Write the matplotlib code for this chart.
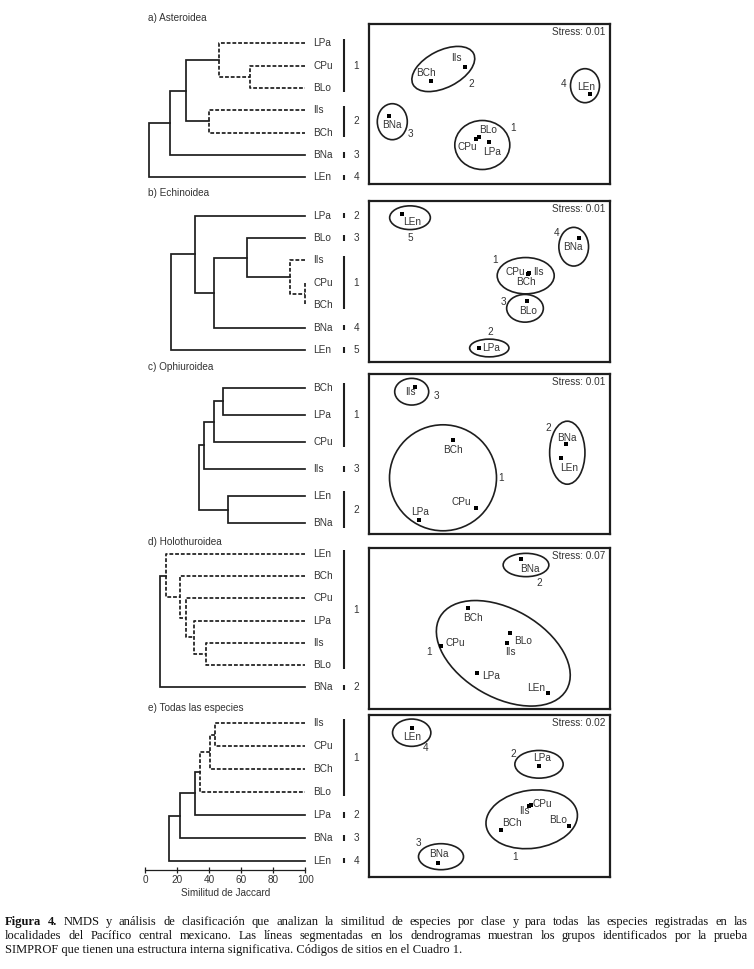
import matplotlib
matplotlib.use('Agg')
import matplotlib.pyplot as plt
from matplotlib.patches import Ellipse

plt.rcParams['font.family'] = ['Liberation Sans', 'DejaVu Sans']

# ── Data ──────────────────────────────────────────────────────────────────────
# Dendrograms: leaves top->bottom, merges (child, child, Jaccard similarity, SIMPROF dashed)
# ints in merges refer to earlier merge rows (like a linkage table)
A_LEAVES = ['LPa', 'CPu', 'BLo', 'IIs', 'BCh', 'BNa', 'LEn']
A_MERGES = [('CPu', 'BLo', 65.6, True), ('LPa', 0, 46.0, True), ('IIs', 'BCh', 39.6, True),
            (1, 2, 25.6, False), (3, 'BNa', 15.2, False), (4, 'LEn', 2.3, False)]
A_GROUPS = [('LPa', 'BLo', '1'), ('IIs', 'BCh', '2'), ('BNa', 'BNa', '3'), ('LEn', 'LEn', '4')]

B_LEAVES = ['LPa', 'BLo', 'IIs', 'CPu', 'BCh', 'BNa', 'LEn']
B_MERGES = [('CPu', 'BCh', 100.0, True), ('IIs', 0, 90.6, True), ('BLo', 1, 63.5, False),
            (2, 'BNa', 42.7, False), ('LPa', 3, 31.3, False), (4, 'LEn', 16.0, False)]
B_GROUPS = [('LPa', 'LPa', '2'), ('BLo', 'BLo', '3'), ('IIs', 'BCh', '1'),
            ('BNa', 'BNa', '4'), ('LEn', 'LEn', '5')]

C_LEAVES = ['BCh', 'LPa', 'CPu', 'IIs', 'LEn', 'BNa']
C_MERGES = [('BCh', 'LPa', 48.5, False), (0, 'CPu', 42.7, False), (1, 'IIs', 36.5, False),
            ('LEn', 'BNa', 51.7, False), (2, 3, 33.5, False)]
C_GROUPS = [('BCh', 'CPu', '1'), ('IIs', 'IIs', '3'), ('LEn', 'BNa', '2')]

D_LEAVES = ['LEn', 'BCh', 'CPu', 'LPa', 'IIs', 'BLo', 'BNa']
D_MERGES = [('IIs', 'BLo', 38.1, True), ('LPa', 0, 30.2, True), ('CPu', 1, 25.6, True),
            ('BCh', 2, 21.9, True), ('LEn', 3, 12.9, True), (4, 'BNa', 9.4, False)]
D_GROUPS = [('LEn', 'BLo', '1'), ('BNa', 'BNa', '2')]

E_LEAVES = ['IIs', 'CPu', 'BCh', 'BLo', 'LPa', 'BNa', 'LEn']
E_MERGES = [('IIs', 'CPu', 43.3, True), (0, 'BCh', 40.2, True), (1, 'BLo', 34.4, True),
            (2, 'LPa', 31.3, False), (3, 'BNa', 21.5, False), (4, 'LEn', 14.6, False)]
E_GROUPS = [('IIs', 'BLo', '1'), ('LPa', 'LPa', '2'), ('BNa', 'BNa', '3'), ('LEn', 'LEn', '4')]

# NMDS ordinations (box units, y up); ellipses: (cx, cy, width, height, angle, group)
A_SITES = ['IIs', 'BCh', 'LEn', 'BNa', 'CPu', 'BLo', 'LPa']
A_X = [95.7, 61.7, 220.7, 20.0, 106.7, 110.0, 120.0]
A_Y = [117.6, 103.3, 90.0, 68.6, 45.3, 47.3, 42.6]
A_ELLIPSES = [(74, 115.3, 68, 37, 27, '2'), (215.7, 98.6, 29, 34, 0, '4'),
              (23, 62.6, 30, 36, 0, '3'), (113, 39.3, 55, 49, 0, '1')]
A_STRESS = 0.01

B_SITES = ['LEn', 'BNa', 'CPu', 'IIs', 'BCh', 'BLo', 'LPa']
B_X = [33.0, 209.4, 158.6, 159.4, 159.0, 158.0, 110.0]
B_Y = [147.4, 123.4, 88.0, 88.3, 87.7, 60.7, 13.4]
B_ELLIPSES = [(40.7, 144, 40.7, 23.7, 0, '5'), (204.4, 115, 29.7, 38.7, 0, '4'),
              (156.4, 86, 57, 36.3, 0, '1'), (155.7, 53.4, 36.7, 27.7, 0, '3'),
              (120, 13.7, 39.3, 17.7, 0, '2')]
B_STRESS = 0.01

C_SITES = ['IIs', 'BCh', 'BNa', 'LEn', 'CPu', 'LPa']
C_X = [45.7, 84.0, 197.0, 192.0, 106.7, 50.0]
C_Y = [147.3, 94.3, 90.0, 76.3, 26.6, 14.3]
C_ELLIPSES = [(42.4, 142.6, 34, 26.7, 0, '3'), (73.7, 56.5, 107, 106, 0, '1'),
              (198, 81.6, 35.3, 63, 0, '2')]
C_STRESS = 0.01

D_SITES = ['BNa', 'BCh', 'BLo', 'IIs', 'CPu', 'LPa', 'LEn']
D_X = [152.0, 99.0, 140.7, 138.0, 71.4, 107.4, 178.4]
D_Y = [149.7, 101.3, 76.3, 66.0, 63.3, 35.7, 16.3]
D_ELLIPSES = [(156.7, 144, 45.7, 23.3, 0, '2'), (134, 55.7, 146, 88, -30, '1')]
D_STRESS = 0.07

E_SITES = ['LEn', 'LPa', 'CPu', 'IIs', 'BCh', 'BLo', 'BNa']
E_X = [42.4, 169.7, 161.4, 160.0, 131.4, 200.0, 69.0]
E_Y = [148.4, 110.7, 71.7, 70.7, 46.4, 51.0, 14.0]
E_ELLIPSES = [(42.4, 144, 38.3, 27.3, 0, '4'), (169.7, 112.4, 48.3, 27.7, 0, '2'),
              (162.4, 57.4, 92, 58, 8, '1'), (71.7, 20, 45, 26, 0, '3')]
E_STRESS = 0.02

# ── Layout (pixels) ───────────────────────────────────────────────────────────
W, H = 754, 969
TEXT_C = '#333333'
LINE_C = '#1e1e1e'
FS = 7.2

# where each site name sits relative to its point, per panel
A_LAB = [(87.4, 126), (56.7, 111), (216.7, 97.6), (23, 59.3), (98, 37.6), (118.4, 54), (122.4, 32.6)]
A_GLAB = [(102.4, 100.3), (194.7, 100.3), (40.7, 50.3), (143.4, 56)]
B_LAB = [(42.4, 140), (204, 114.4), (145.7, 90), (169, 90), (156.4, 79.4), (159, 51), (121.4, 14)]
B_GLAB = [(40.7, 123.4), (187.4, 129), (125.7, 101.4), (134, 59.4), (121.4, 29.7)]
C_LAB = [(40.7, 142.6), (83.4, 84.3), (197.4, 96), (199.7, 66.6), (92.4, 32.6), (50.7, 22.6)]
C_GLAB = [(67.4, 138.6), (131.7, 56.6), (179, 106.6)]
D_LAB = [(160.7, 140), (104, 90.7), (153.4, 68), (140.7, 56.7), (85.7, 65.7), (121.4, 33), (166.7, 21.3)]
D_GLAB = [(170, 125.7), (59.7, 56.7)]
E_LAB = [(42.4, 139.4), (173, 119), (173.4, 72.7), (155, 65.7), (142.4, 54), (189, 56.7), (69.7, 22.7)]
E_GLAB = [(56.7, 128.4), (144, 122.4), (145.7, 20), (49, 33.4)]

fig = plt.figure(figsize=(W / 100, H / 100), dpi=100)


def draw_dendro(top, bottom, leaves, merges, groups, axis_px=0):
    n = len(leaves)
    step = (bottom - top) / (n - 1)
    ax = fig.add_axes([145.3 / W, 1 - (bottom + axis_px) / H, 160 / W, (bottom + axis_px - top) / H])
    ax.set_xlim(0, 100)
    ax.set_ylim(n - 1 + axis_px / step, 0)
    pos = {leaf: i for i, leaf in enumerate(leaves)}
    nx, ny = {}, {}

    def get(c):
        if isinstance(c, str):
            return 100.0, pos[c]
        return nx[c], ny[c]

    for k, (c1, c2, h, dashed) in enumerate(merges):
        x1, y1 = get(c1)
        x2, y2 = get(c2)
        ls = (0, (2.2, 1.1)) if dashed else '-'
        ax.plot([x1, h, h, x2], [y1, y1, y2, y2], ls=ls, color=LINE_C,
                lw=1.25, clip_on=False, solid_joinstyle='miter')
        nx[k], ny[k] = h, (y1 + y2) / 2

    for leaf, i in pos.items():
        ax.text(105, i, leaf, ha='left', va='center', fontsize=FS, color=TEXT_C, clip_on=False)

    for first, last, g in groups:
        i0, i1 = pos[first], pos[last]
        pad = 0.18 if i1 > i0 else 0.12
        ax.plot([124, 124], [i0 - pad, i1 + pad], color=LINE_C, lw=1.5, clip_on=False,
                solid_capstyle='butt')
        ax.text(130, (i0 + i1) / 2, g, ha='left', va='center', fontsize=FS, color=TEXT_C)

    for s in ax.spines.values():
        s.set_visible(False)
    ax.set_yticks([])
    ax.set_xticks([])
    return ax


def draw_nmds(top, bottom, sites, xs, ys, labs, ellipses, glabs, stress):
    h = bottom - top
    ax = fig.add_axes([369.3 / W, 1 - bottom / H, 240.7 / W, h / H])
    ax.set_xlim(0, 240.7)
    ax.set_ylim(0, h)
    ax.set_xticks([])
    ax.set_yticks([])
    for s in ax.spines.values():
        s.set_linewidth(1.6)
        s.set_color(LINE_C)
    ax.scatter(xs, ys, marker='s', s=5, color='black', linewidths=0, zorder=3)
    for site, (lx, ly) in zip(sites, labs):
        ax.text(lx, ly, site, ha='center', va='center', fontsize=FS, color=TEXT_C)
    for (cx, cy, ew, eh, ang, g), (gx, gy) in zip(ellipses, glabs):
        ax.add_patch(Ellipse((cx, cy), ew, eh, angle=ang, fill=False, lw=1.2, ec=LINE_C))
        ax.text(gx, gy, g, ha='center', va='center', fontsize=FS, color=TEXT_C)
    ax.text(236, h - 8, f'Stress: {stress:.2f}', ha='right', va='center', fontsize=FS, color=TEXT_C)


# ── Panels ────────────────────────────────────────────────────────────────────
TITLES = ['a) Asteroidea', 'b) Echinoidea', 'c) Ophiuroidea', 'd) Holothuroidea', 'e) Todas las especies']
TITLE_Y = [18, 192.7, 366.7, 542, 708]
for t, y in zip(TITLES, TITLE_Y):
    fig.text(148 / W, 1 - y / H, t, ha='left', va='center', fontsize=FS, color=TEXT_C)

draw_dendro(43.3, 177.3, A_LEAVES, A_MERGES, A_GROUPS)
draw_dendro(215.7, 350.0, B_LEAVES, B_MERGES, B_GROUPS)
draw_dendro(387.7, 523.3, C_LEAVES, C_MERGES, C_GROUPS)
draw_dendro(554.0, 687.3, D_LEAVES, D_MERGES, D_GROUPS)
ax_e = draw_dendro(723.3, 860.7, E_LEAVES, E_MERGES, E_GROUPS, axis_px=9.3)

ax_e.spines['bottom'].set_visible(True)
ax_e.spines['bottom'].set_linewidth(0.9)
ax_e.spines['bottom'].set_color(LINE_C)
ax_e.set_xticks(range(0, 101, 20))
ax_e.tick_params(axis='x', direction='inout', length=4, width=0.9, color=LINE_C,
                 labelsize=FS, labelcolor=TEXT_C, pad=1.5)
ax_e.set_xlabel('Similitud de Jaccard', fontsize=FS, color=TEXT_C, labelpad=2)

draw_nmds(24.3, 184.3, A_SITES, A_X, A_Y, A_LAB, A_ELLIPSES, A_GLAB, A_STRESS)
draw_nmds(200.7, 361.7, B_SITES, B_X, B_Y, B_LAB, B_ELLIPSES, B_GLAB, B_STRESS)
draw_nmds(374.0, 534.3, C_SITES, C_X, C_Y, C_LAB, C_ELLIPSES, C_GLAB, C_STRESS)
draw_nmds(548.3, 709.0, D_SITES, D_X, D_Y, D_LAB, D_ELLIPSES, D_GLAB, D_STRESS)
draw_nmds(715.0, 876.7, E_SITES, E_X, E_Y, E_LAB, E_ELLIPSES, E_GLAB, E_STRESS)

# ── Caption (first two lines justified word by word, last line plain) ─────────
CAPTION = [
    'Figura 4. NMDS y análisis de clasificación que analizan la similitud de especies por clase '
    'y para todas las especies registradas en las',
    'localidades del Pacífico central mexicano. Las líneas segmentadas en los dendrogramas '
    'muestran los grupos identificados por la prueba',
    'SIMPROF que tienen una estructura interna significativa. Códigos de sitios en el Cuadro 1.',
]
CAP_BASE = [924.5, 939.0, 953.5]
CAP_FS = 9.0
renderer = fig.canvas.get_renderer()
x_left, x_right = 5, 748
for li, (line, yb) in enumerate(zip(CAPTION, CAP_BASE)):
    y = round(H - yb) / H
    if li == 2:
        fig.text(x_left / W, y, line, fontsize=CAP_FS, family='Liberation Serif',
                 va='baseline', color='#111111')
        continue
    words = line.split(' ')
    texts = []
    for k, w in enumerate(words):
        bold = li == 0 and k < 2
        texts.append(fig.text(0, y, w, fontsize=CAP_FS, family='Liberation Serif',
                              weight='bold' if bold else 'normal', va='baseline', color='#111111'))
    widths = [t.get_window_extent(renderer).width for t in texts]
    gap = (x_right - x_left - sum(widths)) / (len(words) - 1)
    x = x_left
    for t, wd in zip(texts, widths):
        t.set_x(x / W)
        x += wd + gap

fig.savefig('out.png', dpi=100)
